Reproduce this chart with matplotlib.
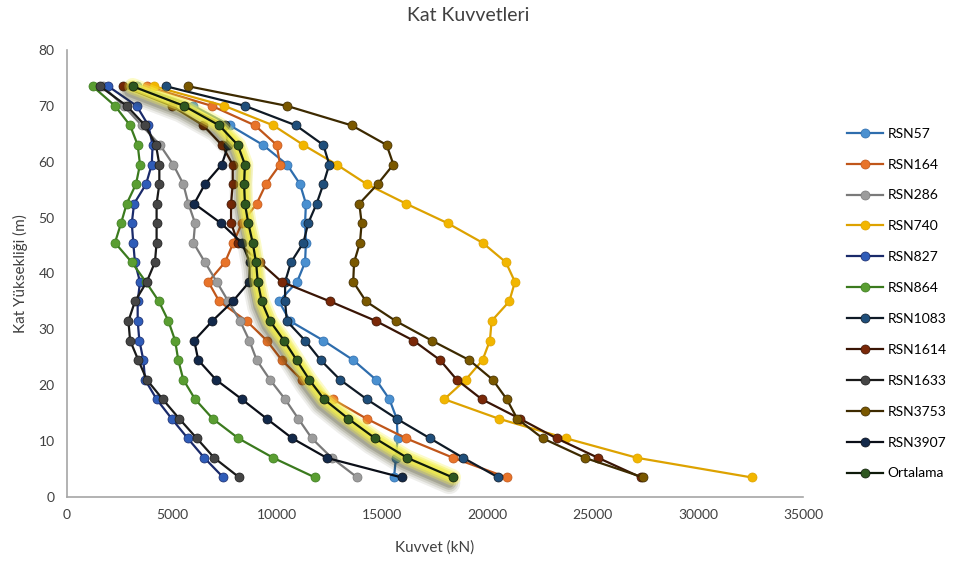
import matplotlib
matplotlib.use("Agg")
import matplotlib.pyplot as plt
from matplotlib.transforms import ScaledTranslation

plt.rcParams['font.family'] = ['Lato', 'DejaVu Sans']

# ===============================
# Veriler (kat yüksekliği ve kat kuvvetleri, kN)
# ===============================
kat_yuksekligi = [3.5, 7, 10.5, 14, 17.5, 21, 24.5, 28, 31.5, 35, 38.5,
                  42, 45.5, 49, 52.5, 56, 59.5, 63, 66.5, 70, 73.5]

rsn57 = [15550, 15640, 15720, 15680, 15330, 14690, 13610, 12190, 10600, 10080, 10940,
         11320, 11360, 11320, 11360, 11080, 10460, 9320, 7750, 6010, 3340]
rsn164 = [20910, 18370, 16120, 14250, 12630, 11160, 10210, 9500, 8540, 7240, 6720,
          7510, 7910, 8310, 9020, 9460, 10130, 9970, 8940, 6880, 3790]
rsn286 = [13800, 12590, 11640, 11000, 10370, 9650, 9020, 8670, 8230, 7670, 7120,
          6560, 6010, 6090, 5770, 5530, 5050, 4420, 3550, 2700, 1700]
rsn740 = [32560, 27120, 23730, 20540, 17940, 18960, 19760, 20110, 20190, 21030, 21300,
          20870, 19760, 18100, 16120, 14250, 12820, 11240, 9810, 7480, 4150]
rsn827 = [7430, 6530, 5740, 4980, 4260, 3710, 3630, 3440, 3360, 3360, 3470,
          3230, 3150, 3080, 3190, 3760, 4030, 4070, 3870, 3310, 1960]
rsn864 = [11790, 9810, 8150, 6930, 6090, 5530, 5290, 5140, 4820, 4370, 3750,
          3080, 2280, 2570, 2840, 3280, 3470, 3360, 3000, 2280, 1220]
rsn1083 = [20510, 18840, 17260, 15680, 14250, 12980, 12060, 11320, 10450, 10370, 10370,
           10650, 11240, 11470, 11870, 12190, 12470, 12190, 10890, 8460, 4710]
rsn1614 = [27300, 25260, 23280, 21540, 19720, 18530, 17740, 16470, 14690, 12510, 10210,
           9180, 8130, 7800, 7800, 7880, 7880, 7360, 6480, 4980, 2680]
rsn1633 = [8190, 7000, 6170, 5340, 4550, 3790, 3390, 3000, 2920, 3230, 3790,
           4180, 4260, 4260, 4260, 4390, 4390, 4230, 3710, 2840, 1570]
rsn3753 = [27400, 24630, 22620, 21410, 20910, 20240, 19130, 17340, 15630, 14220, 13610,
           13650, 13930, 14010, 13900, 14770, 15520, 15200, 13540, 10450, 5770]
rsn3907 = [15910, 12350, 10710, 9500, 8310, 7080, 6240, 6050, 6910, 7880, 8670,
           8700, 8310, 7320, 6050, 6560, 7360, 7670, 7500, 5600, 3100]
ortalama = [18340, 16180, 14650, 13380, 12220, 11520, 10920, 10320, 9650, 9260, 9070,
            8990, 8830, 8620, 8460, 8420, 8460, 8120, 7240, 5560, 3120]

seriler = [
    ("RSN57", rsn57, '#4A90D0', '#2E6DAD'),
    ("RSN164", rsn164, '#E8742A', '#C0561A'),
    ("RSN286", rsn286, '#9C9C9C', '#7A7A7A'),
    ("RSN740", rsn740, '#F2B600', '#DDA200'),
    ("RSN827", rsn827, '#2F5CB8', '#1A2A6A'),
    ("RSN864", rsn864, '#5A9E32', '#3B7A1E'),
    ("RSN1083", rsn1083, '#1F4E7A', '#0F1A26'),
    ("RSN1614", rsn1614, '#7A2808', '#3A1505'),
    ("RSN1633", rsn1633, '#454545', '#1A1A1A'),
    ("RSN3753", rsn3753, '#7A5800', '#3D2A00'),
    ("RSN3907", rsn3907, '#13294A', '#0B0F18'),
    ("Ortalama", ortalama, '#2E5720', '#0E1A0A'),
]

# ===============================
# Grafik
# ===============================
fig = plt.figure(figsize=(9.56, 5.61), dpi=100)
ax = fig.add_axes([0.0701, 0.1141, 0.7699, 0.7968])

golge = ax.transData + ScaledTranslation(-2.5 / 72, -4 / 72, fig.dpi_scale_trans)

for i, (ad, degerler, mfc, lc) in enumerate(seriler):
    if ad == "Ortalama":
        # parlama efekti: bulanık koyu gölge + sarı glow
        for lw, a in [(16, 0.08), (13, 0.10), (10, 0.14), (7, 0.18)]:
            ax.plot(degerler, kat_yuksekligi, color='#2E2E05', lw=lw, alpha=a,
                    solid_capstyle='round', solid_joinstyle='round',
                    transform=golge, zorder=2 * i + 1)
        for lw, a in [(12, 0.30), (9, 0.45), (6, 0.6)]:
            ax.plot(degerler, kat_yuksekligi, color='#F6F24A', lw=lw, alpha=a,
                    solid_capstyle='round', solid_joinstyle='round', zorder=2 * i + 1)
    ax.plot(degerler, kat_yuksekligi, color=lc, lw=1.6, marker='o', ms=6.5,
            mfc=mfc, mec=lc, mew=0.5, label=ad, zorder=2 * i + 2)

ax.set_xlim(0, 35000)
ax.set_ylim(0, 80)
ax.set_xticks([0, 5000, 10000, 15000, 20000, 25000, 30000, 35000])
ax.set_yticks([0, 10, 20, 30, 40, 50, 60, 70, 80])
ax.tick_params(length=0, labelsize=10, colors='#404040', pad=9)

for s in ['top', 'right']:
    ax.spines[s].set_visible(False)
for s in ['left', 'bottom']:
    ax.spines[s].set_color('#A6A6A6')
    ax.spines[s].set_linewidth(1.2)

fig.text(0.49, 0.973, 'Kat Kuvvetleri', ha='center', va='center', fontsize=14, color='#404040')
fig.text(0.455, 0.024, 'Kuvvet (kN)', ha='center', va='center', fontsize=11, color='#404040')
fig.text(0.021, 0.513, 'Kat Yüksekliği (m)', ha='center', va='center', rotation=90,
         fontsize=11, color='#404040')

ax.legend(loc='center left', bbox_to_anchor=(0.886, 0.459), bbox_transform=fig.transFigure,
          frameon=False, fontsize=10, labelspacing=1.36, handlelength=2.6,
          handletextpad=0.3, borderaxespad=0, borderpad=0)

plt.savefig("out.png", dpi=100)
